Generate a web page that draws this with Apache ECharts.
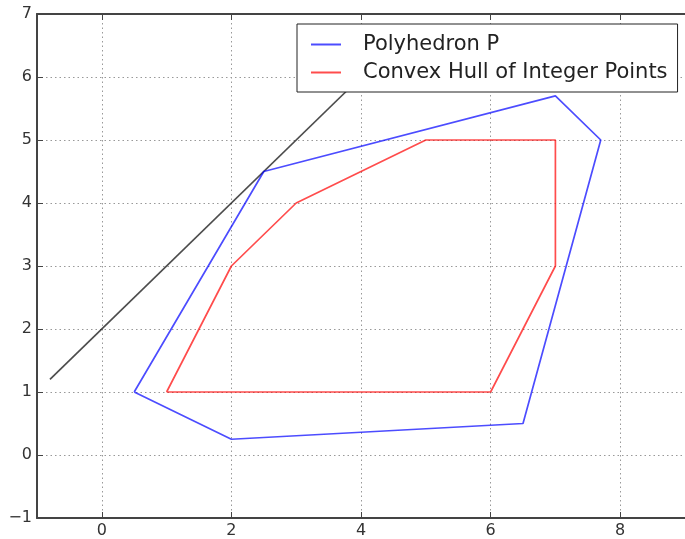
<!DOCTYPE html>
<html><head><meta charset="utf-8">
<script src="https://cdn.jsdelivr.net/npm/echarts@6/dist/echarts.min.js"></script>
<style>html,body{margin:0;padding:0;background:#fff}#c{width:685px;height:539px}</style>
</head><body><div id="c"></div>
<script>
const polyX = [0.5, 2, 6.5, 7.7, 7, 2.5, 0.5];
const polyY = [1, 0.25, 0.5, 5, 5.7, 4.5, 1];
const hullX = [1, 6, 7, 7, 5, 3, 2, 1];
const hullY = [1, 1, 3, 5, 5, 4, 3, 1];
const cutX = [-0.8, 4.5];
const cutY = [1.2, 6.5];
const xTicks = [0, 2, 4, 6, 8];
const yTicks = [-1, 0, 1, 2, 3, 4, 5, 6, 7];
const seriesNames = ['Polyhedron P', 'Convex Hull of Integer Points'];

const pairs = (xs, ys) => xs.map((x, i) => [x, ys[i]]);
const font = 'DejaVu Sans';
const chart = echarts.init(document.getElementById('c'), null, {renderer: 'canvas'});
const fmt = v => (v < 0 ? '\u2212' + Math.abs(v) : String(v));
const gridLine = {show: true, lineStyle: {color: '#999', type: [1.5, 3], width: 1}};
const axisLine = {show: true, onZero: false, lineStyle: {color: '#444', width: 2}};
const tick = {show: true, inside: true, length: 6, lineStyle: {color: '#444', width: 1}};
const xAxisBase = {type: 'value', min: -1, max: 9, axisLine: axisLine};
chart.setOption({
  animation: false,
  grid: {left: 37, top: 14, width: 649, bottom: 21, containLabel: false},
  xAxis: [
    Object.assign({}, xAxisBase, {
      position: 'bottom',
      axisTick: Object.assign({customValues: xTicks}, tick),
      splitLine: gridLine,
      axisLabel: {customValues: xTicks, formatter: fmt, color: '#333', fontFamily: font, fontSize: 16, margin: 5}
    }),
    Object.assign({}, xAxisBase, {
      position: 'top',
      axisTick: Object.assign({customValues: xTicks}, tick),
      axisLabel: {show: false, customValues: xTicks},
      splitLine: {show: false}
    })
  ],
  yAxis: {
    type: 'value', min: -1, max: 7, interval: 1,
    axisLine: axisLine,
    axisTick: tick,
    axisLabel: {formatter: fmt, color: '#333', fontFamily: font, fontSize: 16, margin: 5},
    splitLine: gridLine
  },
  legend: {
    data: seriesNames,
    orient: 'vertical',
    left: 297, top: 24,
    backgroundColor: '#fff',
    borderColor: '#222', borderWidth: 1,
    padding: [10, 10, 9, 14],
    itemGap: 7,
    itemWidth: 30, itemHeight: 2,
    icon: 'rect',
    textStyle: {fontFamily: font, fontSize: 21, color: '#222', padding: [0, 0, 0, 17]},
    z: 10
  },
  series: [
    {name: 'cut', type: 'line', data: pairs(cutX, cutY), symbol: 'none', xAxisIndex: 0,
     lineStyle: {color: 'rgba(0,0,0,0.7)', width: 1.7}, itemStyle: {color: 'rgba(0,0,0,0.7)'}, z: 1},
    {name: seriesNames[0], type: 'line', data: pairs(polyX, polyY), symbol: 'none', xAxisIndex: 0,
     lineStyle: {color: 'rgba(0,0,255,0.7)', width: 1.7}, itemStyle: {color: 'rgba(0,0,255,0.7)'}, z: 2},
    {name: seriesNames[1], type: 'line', data: pairs(hullX, hullY), symbol: 'none', xAxisIndex: 0,
     lineStyle: {color: 'rgba(255,0,0,0.7)', width: 1.7}, itemStyle: {color: 'rgba(255,0,0,0.7)'}, z: 3}
  ]
});
</script></body></html>
